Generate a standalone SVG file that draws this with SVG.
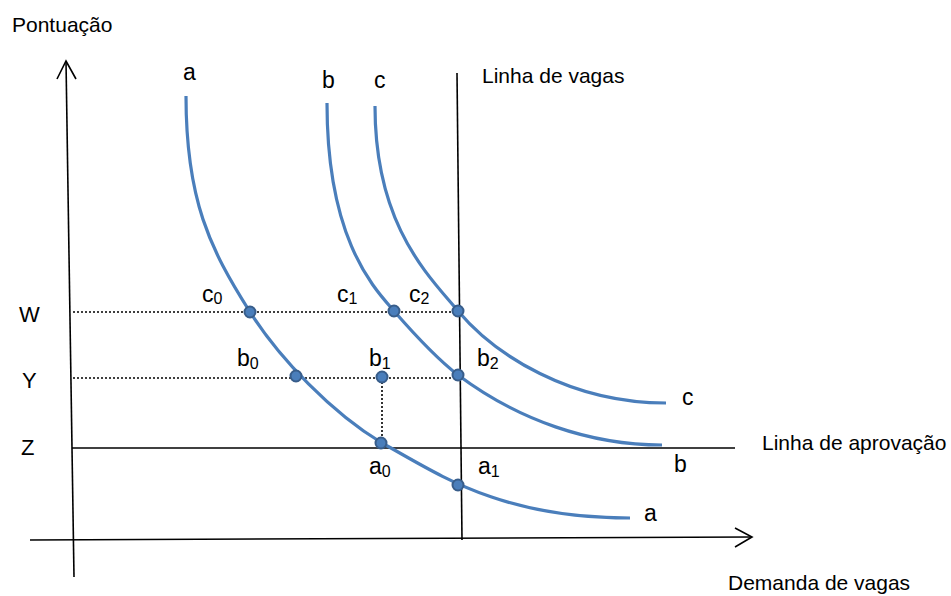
<svg xmlns="http://www.w3.org/2000/svg" width="951" height="596" viewBox="0 0 951 596">
<style>
text{font-family:"Liberation Sans",Arial,sans-serif;font-size:21px;fill:#000}
.lb{font-size:23px}
.ax2{font-size:22px}
.sub{font-size:16px}
.ax{stroke:#000;stroke-width:1.6;fill:none}
.dot{stroke:#000;stroke-width:1.6;stroke-dasharray:2 2;fill:none}
.cur{stroke:#4a7ebb;stroke-width:3.2;fill:none}
.pt{fill:#4a7ebb;stroke:#385d8a;stroke-width:2}
</style>
<rect width="951" height="596" fill="#fff"/>
<g id="connectors">
<path class="ax" d="M74,577 L66,61"/>
<path class="ax" d="M57,79 L66,61 L76,79"/>
<path class="ax" d="M30,540 L751,537"/>
<path class="ax" d="M735,528 L752,537 L735,547"/>
<path class="ax" d="M457,73 L462,540"/>
<path class="ax" d="M72,448 L735,448"/>
<path class="dot" d="M73,312 L458,312"/>
<path class="dot" d="M73,378 L458,378"/>
<path class="dot" d="M382,378 L382,443"/>
</g>
<g id="curve-a"><path class="cur" d="M186,96 C186,200 210,249 250,312 C280,359 332,413 382,443 C440,475 500,518 630,518"/></g>
<g id="curve-b"><path class="cur" d="M327,103 C327,240 374,288 394,311 C414,334 436,358 458,375 C518,420 590,445 662,445"/></g>
<g id="curve-c"><path class="cur" d="M375,106 C375,225 428,275 458,311 C495,355 570,403 666,403"/></g>
<g id="points">
<circle class="pt" cx="250" cy="312" r="5.5"/>
<circle class="pt" cx="394" cy="311" r="5.5"/>
<circle class="pt" cx="458" cy="311" r="5.5"/>
<circle class="pt" cx="296" cy="376" r="5.5"/>
<circle class="pt" cx="382" cy="377" r="5.5"/>
<circle class="pt" cx="458" cy="375" r="5.5"/>
<circle class="pt" cx="381" cy="443" r="5.5"/>
<circle class="pt" cx="458" cy="485" r="5.5"/>
</g>
<g id="labels">
<text x="12" y="32">Pontuação</text>
<text class="lb" x="183" y="80">a</text>
<text class="lb" x="322" y="88">b</text>
<text class="lb" x="374" y="88">c</text>
<text x="482" y="83">Linha de vagas</text>
<text class="lb" x="202" y="302">c<tspan class="sub" dy="2">0</tspan></text>
<text class="lb" x="337" y="302">c<tspan class="sub" dy="2">1</tspan></text>
<text class="lb" x="409" y="302">c<tspan class="sub" dy="2">2</tspan></text>
<text class="lb" x="237" y="366">b<tspan class="sub" dy="3">0</tspan></text>
<text class="lb" x="369" y="366">b<tspan class="sub" dy="3">1</tspan></text>
<text class="lb" x="477" y="366">b<tspan class="sub" dy="3">2</tspan></text>
<text class="lb" x="369" y="474">a<tspan class="sub" dy="3">0</tspan></text>
<text class="lb" x="478" y="474">a<tspan class="sub" dy="3">1</tspan></text>
<text class="lb" x="682" y="405">c</text>
<text class="lb" x="674" y="472">b</text>
<text class="lb" x="644" y="521">a</text>
<text x="762" y="450">Linha de aprovação</text>
<text class="ax2" x="19" y="322">W</text>
<text class="ax2" x="22" y="388">Y</text>
<text class="ax2" x="21" y="455">Z</text>
<text x="728" y="590">Demanda de vagas</text>
</g>
</svg>
